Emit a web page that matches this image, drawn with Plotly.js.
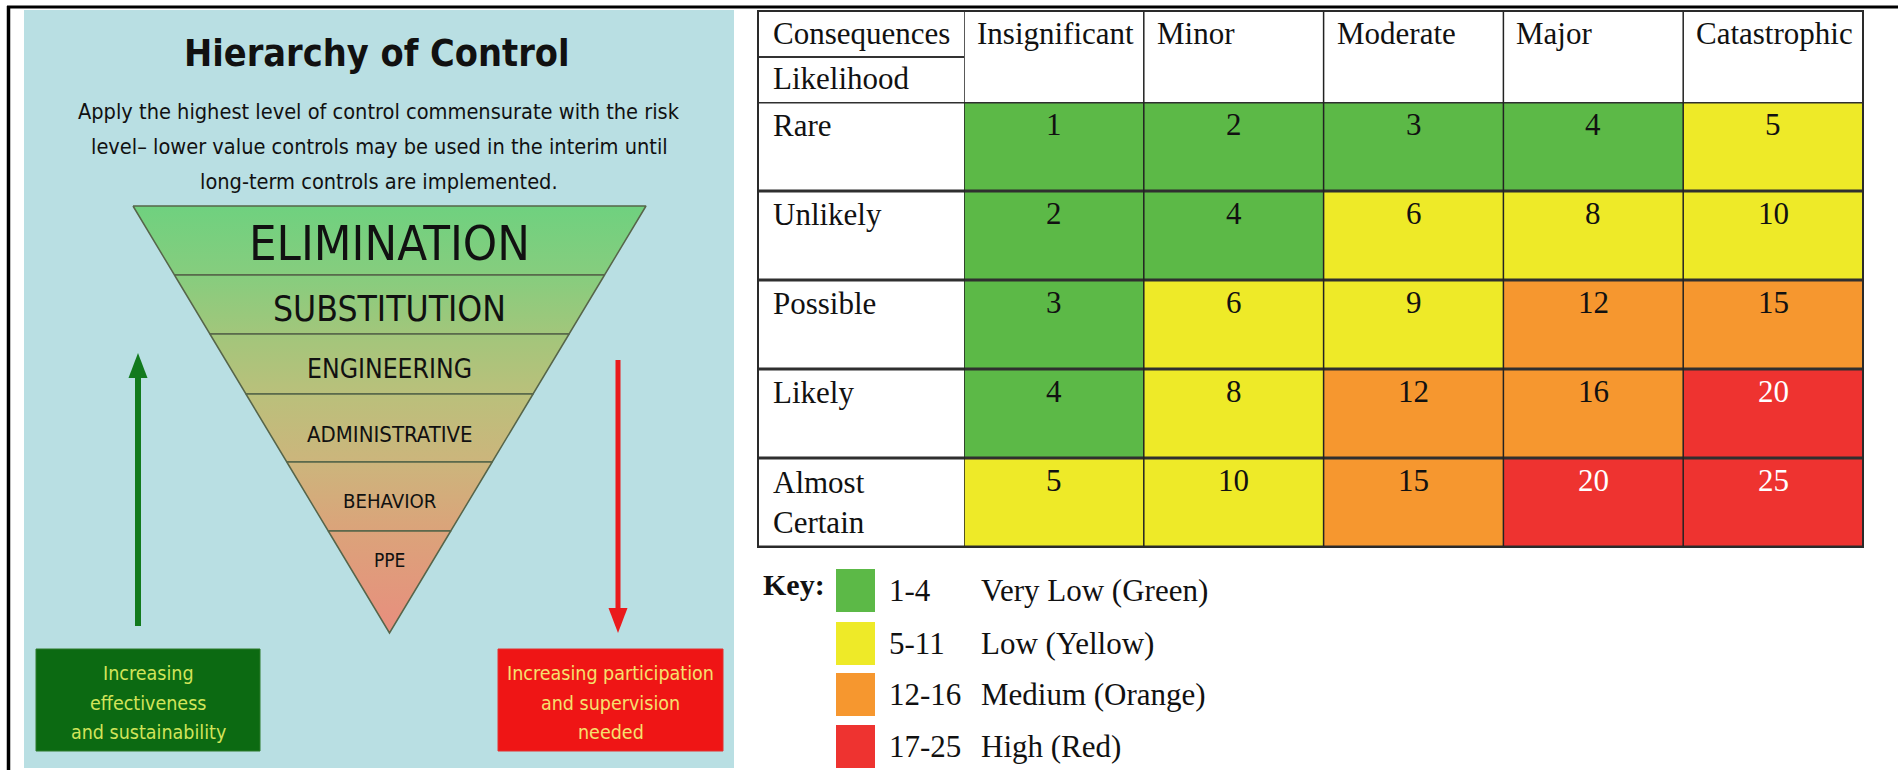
<!DOCTYPE html>
<html><head><meta charset="utf-8">
<script src="https://cdn.plot.ly/plotly-3.0.1.min.js"></script>
<style>html,body{margin:0;padding:0;background:#fff;}#chart{width:1898px;height:770px;}</style>
</head><body><div id="chart"></div>
<script>
// ---------------- data ----------------
const title = 'Hierarchy of Control';
const subtitleLines = [
  'Apply the highest level of control commensurate with the risk',
  'level\u2013 lower value controls may be used in the interim until',
  'long-term controls are implemented.'
];
const controlLevels = ['ELIMINATION', 'SUBSTITUTION', 'ENGINEERING', 'ADMINISTRATIVE', 'BEHAVIOR', 'PPE'];
const effectivenessText = ['Increasing', 'effectiveness', 'and sustainability'];
const participationText = ['Increasing participation', 'and supervision', 'needed'];

const cornerTop = 'Consequences';
const cornerBottom = 'Likelihood';
const consequences = ['Insignificant', 'Minor', 'Moderate', 'Major', 'Catastrophic'];
const likelihood = ['Rare', 'Unlikely', 'Possible', 'Likely', 'Almost Certain'];
const riskScores = [
  [1, 2, 3, 4, 5],
  [2, 4, 6, 8, 10],
  [3, 6, 9, 12, 15],
  [4, 8, 12, 16, 20],
  [5, 10, 15, 20, 25]
];
const keyTitle = 'Key:';
const keyLow = [1, 5, 12, 17];
const keyHigh = [4, 11, 16, 25];
const keyNames = ['Very Low (Green)', 'Low (Yellow)', 'Medium (Orange)', 'High (Red)'];

// ---------------- styles / layout ----------------
const W = 1898, H = 770;
const keyColors = ['#5cb947', '#eeea28', '#f6972f', '#ee3330'];
const SANS_N = '"Liberation Sans Narrow", "DejaVu Sans Condensed", "Liberation Sans", sans-serif';
const SERIF = '"Liberation Serif", "Times New Roman", serif';

const traces = [], shapes = [], annotations = [];
const ann = (o) => annotations.push(Object.assign({xref: 'x', yref: 'y', showarrow: false}, o));

// outer frame
shapes.push({type: 'line', xref: 'x', yref: 'y', x0: 7, x1: W, y0: 7, y1: 7, line: {color: '#000', width: 3}});
shapes.push({type: 'line', xref: 'x', yref: 'y', x0: 8.5, x1: 8.5, y0: 6, y1: H, line: {color: '#000', width: 3.5}});

// left panel background
shapes.push({type: 'rect', xref: 'x', yref: 'y', x0: 24, x1: 734, y0: 10, y1: 768, fillcolor: '#b9dfe3', line: {width: 0}, layer: 'below'});

// title & subtitle
ann({x: 377, y: 53, text: '<b>' + title + '</b>', font: {family: SANS_N, size: 37.5, color: '#111'}});
const subY = [111, 146, 181];
subtitleLines.forEach((t, i) => ann({x: 379, y: subY[i], text: t, font: {family: SANS_N, size: 21.6, color: '#111'}}));

// funnel
const fTop = 206, fApex = 633, fL = 133, fR = 646, fX = 389.5;
const bandEdges = [206, 275, 334, 394, 462, 531, 633];
const labelY = [243, 308, 369, 434, 501, 560];
const labelSize = [48.6, 35.2, 26.3, 22, 20.2, 19];
const xl = y => fL + (fX - fL) * (y - fTop) / (fApex - fTop);
const xr = y => fR - (fR - fX) * (y - fTop) / (fApex - fTop);
const funnelScale = [[0, '#6fd17f'], [0.16, '#86cd7e'], [0.3, '#a2c67b'], [0.44, '#bac07b'], [0.6, '#ccb57c'], [0.76, '#dba37a'], [1, '#e88e7e']];
controlLevels.forEach((name, i) => {
  const t = bandEdges[i], b = bandEdges[i + 1];
  traces.push({
    type: 'scatter', mode: 'lines', name: name,
    x: [xl(t), xr(t), xr(b), xl(b), xl(t)], y: [t, t, b, b, t],
    fill: 'toself',
    fillgradient: {type: 'vertical', start: fTop, stop: fApex, colorscale: funnelScale},
    line: {color: '#56654a', width: 1.5},
    hoverinfo: 'skip', showlegend: false, xaxis: 'x', yaxis: 'y'
  });
  ann({x: fX, y: labelY[i], text: name, font: {family: SANS_N, size: labelSize[i], color: '#111'}});
});

// arrows
const gCol = '#127a1d', rCol = '#ea1a1c';
shapes.push({type: 'line', xref: 'x', yref: 'y', x0: 138, x1: 138, y0: 626, y1: 372, line: {color: gCol, width: 6}});
shapes.push({type: 'path', xref: 'x', yref: 'y', path: 'M 128.5 378 L 138 353 L 147.5 378 Z', fillcolor: gCol, line: {width: 0}});
shapes.push({type: 'line', xref: 'x', yref: 'y', x0: 618, x1: 618, y0: 360, y1: 612, line: {color: rCol, width: 5}});
shapes.push({type: 'path', xref: 'x', yref: 'y', path: 'M 608.5 608 L 618 633 L 627.5 608 Z', fillcolor: rCol, line: {width: 0}});

// bottom boxes
shapes.push({type: 'rect', xref: 'x', yref: 'y', x0: 36, x1: 260, y0: 649, y1: 751, fillcolor: '#0c6a12', line: {color: '#2c7a2a', width: 1}});
shapes.push({type: 'rect', xref: 'x', yref: 'y', x0: 498, x1: 723, y0: 649, y1: 751, fillcolor: '#ef1515', line: {color: '#e23030', width: 1}});
const boxY = [673, 703, 732];
effectivenessText.forEach((t, i) => ann({x: 148, y: boxY[i], text: t, font: {family: SANS_N, size: 19.5, color: '#d2e45a'}}));
participationText.forEach((t, i) => ann({x: 610.5, y: boxY[i], text: t, font: {family: SANS_N, size: 19.5, color: '#f6e06e'}}));

// ---------------- risk matrix ----------------
const tL = 758, tR = 1863, tT = 11, tHB = 102, tB = 547, labelColR = 964, splitY = 57;
const zmin = 1, zmax = 25;
const cs = [];
keyColors.forEach((c, i) => {
  const a = i === 0 ? 0 : (keyLow[i] - 0.5 - zmin) / (zmax - zmin);
  const b = i === keyColors.length - 1 ? 1 : (keyHigh[i] + 0.5 - zmin) / (zmax - zmin);
  cs.push([a, c], [b, c]);
});
traces.push({
  type: 'heatmap', x: consequences, y: likelihood, z: riskScores,
  zmin: zmin, zmax: zmax, colorscale: cs, showscale: false, hoverinfo: 'skip',
  xaxis: 'x2', yaxis: 'y2'
});

const tf = (size, color) => ({family: SERIF, size: size, color: color || '#111'});
// cell numbers
riskScores.forEach((row, r) => row.forEach((v, c) => {
  annotations.push({xref: 'x2', yref: 'y2', x: consequences[c], y: likelihood[r], yshift: 22, showarrow: false,
    text: String(v), font: tf(31, v >= keyLow[3] ? '#ffffff' : '#111')});
}));
// row labels
likelihood.forEach((l, r) => {
  const parts = l.split(' ');
  const twoLine = parts.length > 1;
  annotations.push({xref: 'x', yref: 'y2', x: 771, xanchor: 'left', y: l, yshift: twoLine ? 0 : 21, showarrow: false,
    text: parts.join('<br>'), font: tf(31), align: 'left'});
});
// column headers
const colW = (tR - labelColR) / consequences.length;
consequences.forEach((c, i) => ann({x: labelColR + i * colW + 11, xanchor: 'left', y: 33, text: c, font: tf(31)}));
ann({x: 771, xanchor: 'left', y: 33, text: cornerTop, font: tf(31)});
ann({x: 771, xanchor: 'left', y: 78, text: cornerBottom, font: tf(31)});

// grid lines
for (let j = 0; j <= likelihood.length; j++) {
  shapes.push({type: 'line', xref: 'x', yref: 'y2', x0: tL, x1: tR, y0: j - 0.5, y1: j - 0.5, line: {color: '#2f2f2f', width: 3}});
}
for (let i = 0; i <= consequences.length; i++) {
  shapes.push({type: 'line', xref: 'x2', yref: 'y', x0: i - 0.5, x1: i - 0.5, y0: tT, y1: tB, line: {color: '#222', width: 1.5}});
}
shapes.push({type: 'line', xref: 'x', yref: 'y', x0: tL, x1: labelColR, y0: splitY, y1: splitY, line: {color: '#333', width: 2}});
shapes.push({type: 'rect', xref: 'x', yref: 'y', x0: tL, x1: tR, y0: tT, y1: tB, line: {color: '#2a2a2a', width: 2}});

// key
const keyY = [569, 622, 673, 725];
ann({x: 761, xanchor: 'left', y: 584, text: '<b>' + keyTitle + '</b>', font: tf(30)});
keyNames.forEach((n, i) => {
  shapes.push({type: 'rect', xref: 'x', yref: 'y', x0: 836, x1: 875, y0: keyY[i], y1: keyY[i] + 43, fillcolor: keyColors[i], line: {width: 0}});
  ann({x: 887, xanchor: 'left', y: keyY[i] + 21, text: keyLow[i] + '-' + keyHigh[i], font: tf(31)});
  ann({x: 979, xanchor: 'left', y: keyY[i] + 21, text: n, font: tf(31)});
});

const layout = {
  width: W, height: H, margin: {l: 0, r: 0, t: 0, b: 0, pad: 0},
  paper_bgcolor: '#ffffff', plot_bgcolor: 'rgba(0,0,0,0)', showlegend: false,
  xaxis: {domain: [0, 1], range: [0, W], visible: false, fixedrange: true},
  yaxis: {domain: [0, 1], range: [H, 0], visible: false, fixedrange: true},
  xaxis2: {domain: [labelColR / W, tR / W], type: 'category', visible: false, anchor: 'y2', range: [-0.5, 4.5], fixedrange: true},
  yaxis2: {domain: [1 - tB / H, 1 - tHB / H], type: 'category', visible: false, anchor: 'x2', range: [4.5, -0.5], fixedrange: true},
  shapes: shapes, annotations: annotations
};
Plotly.newPlot('chart', traces, layout, {staticPlot: true, displayModeBar: false});
</script>
</body></html>
